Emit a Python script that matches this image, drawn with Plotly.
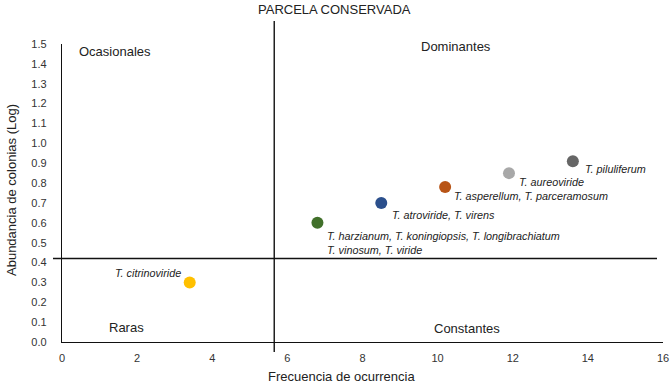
import plotly.graph_objects as go

# ---- data ----
species_labels = [
    "T. citrinoviride",
    "T. harzianum, T. koningiopsis, T. longibrachiatum<br>T. vinosum, T. viride",
    "T. atroviride, T. virens",
    "T. asperellum, T. parceramosum",
    "T. aureoviride",
    "T. piluliferum",
]
frecuencia = [3.4, 6.8, 8.5, 10.2, 11.9, 13.6]
abundancia = [0.30, 0.60, 0.70, 0.78, 0.85, 0.91]
colors = ["#FFC000", "#41702A", "#2B4F8C", "#B85416", "#A8A8A8", "#666666"]

umbral_frecuencia = 5.65
umbral_abundancia = 0.42

quadrant_names = ["Ocasionales", "Dominantes", "Raras", "Constantes"]
quadrant_x = [0.4, 10.48, 1.72, 10.77]
quadrant_y = [1.46, 1.485, 0.075, 0.07]

x_range = [0, 16]
y_range = [0, 1.5]

# ---- styling ----
FONT = "Liberation Sans, Arial, sans-serif"
TXT = "#222222"
W, H = 670, 386
ML, MR, MT, MB = 62, 7, 44, 44
PW, PH = W - ML - MR, H - MT - MB


def px_to_paper(px, py):
    return (px - ML) / PW, (H - MB - py) / PH


fig = go.Figure()
fig.add_trace(go.Scatter(
    x=frecuencia, y=abundancia, mode="markers",
    marker=dict(size=12, color=colors, line=dict(width=0)),
    hoverinfo="skip", showlegend=False, cliponaxis=False,
))

# label offsets (pixels) relative to each point
label_style = [
    dict(xanchor="right", yanchor="middle", xshift=-7, yshift=9),
    dict(xanchor="left", yanchor="top", xshift=8, yshift=-5),
    dict(xanchor="left", yanchor="middle", xshift=9, yshift=-12),
    dict(xanchor="left", yanchor="middle", xshift=7, yshift=-9),
    dict(xanchor="left", yanchor="middle", xshift=8, yshift=-9),
    dict(xanchor="left", yanchor="middle", xshift=10, yshift=-8),
]
annotations = []
for lab, xv, yv, st in zip(species_labels, frecuencia, abundancia, label_style):
    annotations.append(dict(
        x=xv, y=yv, xref="x", yref="y", text="<i>" + lab + "</i>",
        showarrow=False, align="left",
        font=dict(family=FONT, size=10.8, color=TXT), **st))

for name, qx, qy in zip(quadrant_names, quadrant_x, quadrant_y):
    annotations.append(dict(
        x=qx, y=qy, xref="x", yref="y", text=name, showarrow=False,
        xanchor="left" if name == "Ocasionales" else "center", yanchor="middle",
        font=dict(family=FONT, size=13, color=TXT)))

tx, ty = px_to_paper(334, 9)
annotations.append(dict(x=tx, y=ty, xref="paper", yref="paper",
                        text="PARCELA CONSERVADA", showarrow=False,
                        xanchor="center", yanchor="middle",
                        font=dict(family=FONT, size=13, color=TXT)))
ax_x, ax_y = px_to_paper(341, 376)
annotations.append(dict(x=ax_x, y=ax_y, xref="paper", yref="paper",
                        text="Frecuencia de ocurrencia", showarrow=False,
                        xanchor="center", yanchor="middle",
                        font=dict(family=FONT, size=13, color=TXT)))
ay_x, ay_y = px_to_paper(11, 190)
annotations.append(dict(x=ay_x, y=ay_y, xref="paper", yref="paper",
                        text="Abundancia de colonias (Log)", showarrow=False,
                        textangle=-90, xanchor="center", yanchor="middle",
                        font=dict(family=FONT, size=13, color=TXT)))

fig.update_layout(annotations=annotations)

# threshold lines (paper coordinates derived from the thresholds)
xv_paper = (umbral_frecuencia - x_range[0]) / (x_range[1] - x_range[0])
yh_paper = (umbral_abundancia - y_range[0]) / (y_range[1] - y_range[0])
_, v_top = px_to_paper(0, 21)
_, v_bot = px_to_paper(0, 352)
h_left, _ = px_to_paper(53, 0)
h_right, _ = px_to_paper(657, 0)
fig.add_shape(type="line", xref="paper", yref="paper",
              x0=xv_paper, x1=xv_paper, y0=v_bot, y1=v_top,
              line=dict(color="#111111", width=1.4))
fig.add_shape(type="line", xref="paper", yref="paper",
              x0=h_left, x1=h_right, y0=yh_paper, y1=yh_paper,
              line=dict(color="#111111", width=1.4))

fig.update_xaxes(range=x_range, tickvals=list(range(0, 17, 2)),
                 showgrid=False, zeroline=False, showline=True,
                 linecolor="#111111", linewidth=1.3,
                 tickfont=dict(family=FONT, size=11, color="#333333"),
                 ticks="", ticklabelstandoff=6, automargin=False,
                 ticklabeloverflow="allow")
fig.update_yaxes(range=y_range, dtick=0.1, tickformat=".1f",
                 showgrid=False, zeroline=False, showline=True,
                 linecolor="#111111", linewidth=1.3,
                 tickfont=dict(family=FONT, size=11, color="#333333"),
                 ticks="", ticklabelstandoff=12, automargin=False,
                 ticklabeloverflow="allow")

fig.update_layout(
    width=W, height=H,
    margin=dict(l=ML, r=MR, t=MT, b=MB, autoexpand=False),
    plot_bgcolor="white", paper_bgcolor="white",
    font=dict(family=FONT),
)

fig.write_html("out.html", config={"displayModeBar": False},
               post_script="document.body.style.margin='0';document.body.style.overflow='hidden';")
